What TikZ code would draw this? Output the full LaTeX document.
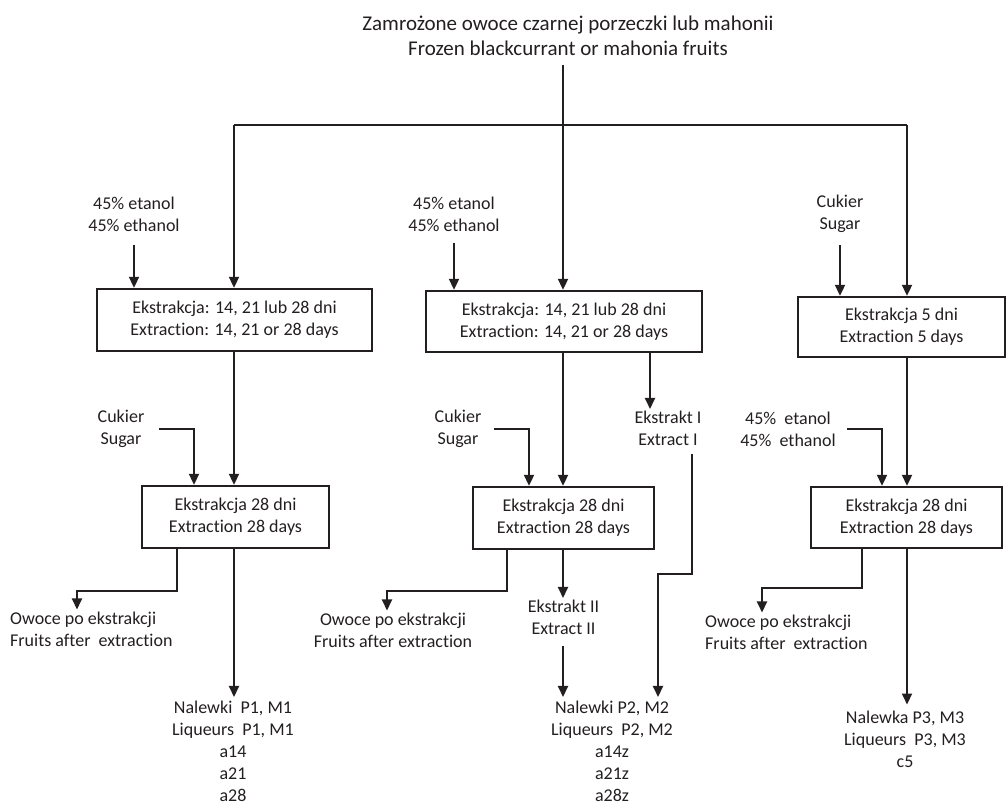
\documentclass[tikz,border=0pt]{standalone}
\usepackage{fontspec}
\setmainfont[Ligatures=CommonOff]{Carlito}
\usetikzlibrary{arrows.meta}
\definecolor{ink}{HTML}{231F20}

\begin{document}
\begin{tikzpicture}[
  x=1pt,y=-1pt,
  >={Triangle[length=11pt,width=10pt]},
  flow/.style={draw=ink,line width=2pt},
  stage/.style={draw=ink,line width=2.4pt,align=center,inner sep=0pt,
    font=\fontsize{18}{22}\selectfont,text=ink},
  lab/.style={align=center,inner sep=2pt,font=\fontsize{18}{22}\selectfont,text=ink},
  head/.style={align=center,inner sep=2pt,font=\fontsize{21}{25}\selectfont,text=ink},
]
\useasboundingbox (0,0) rectangle (1008,811);

% ---------- top: raw material and the three branches ----------
\node[head] (fruit) at (568,36) {Zamrożone owoce czarnej porzeczki lub mahonii\\Frozen blackcurrant or mahonia fruits};
\coordinate (stem) at (563,65);
\coordinate (busL) at (234,125);
\coordinate (busM) at (563,125);
\coordinate (busR) at (907,125);

% ---------- first extraction stage ----------
\node[stage,minimum width=275pt,minimum height=62pt] (ext14a) at (234.5,320) {Ekstrakcja: 14, 21 lub 28 dni\\Extraction: 14, 21 or 28 days};
\node[stage,minimum width=276pt,minimum height=61pt] (ext14b) at (564,321.5) {Ekstrakcja: 14, 21 lub 28 dni\\Extraction: 14, 21 or 28 days};
\node[stage,minimum width=207pt,minimum height=60pt] (ext5) at (901.5,327) {Ekstrakcja 5 dni\\Extraction 5 days};

\node[lab] (eth1) at (134,214) {45\% etanol\\45\% ethanol};
\node[lab] (eth2) at (454,214) {45\% etanol\\45\% ethanol};
\node[lab] (sug3) at (840,214) {Cukier\\Sugar};

% ---------- second extraction stage ----------
\node[stage,minimum width=187pt,minimum height=62pt] (ext28a) at (235.5,517) {Ekstrakcja 28 dni\\Extraction 28 days};
\node[stage,minimum width=181pt,minimum height=62pt] (ext28b) at (563.5,518) {Ekstrakcja 28 dni\\Extraction 28 days};
\node[stage,minimum width=191pt,minimum height=61pt] (ext28c) at (906.5,517.5) {Ekstrakcja 28 dni\\Extraction 28 days};

\node[lab] (sug1) at (121,428.5) {Cukier\\Sugar};
\node[lab] (sug2) at (458,428.5) {Cukier\\Sugar};
\node[lab] (eth3) at (788,429) {45\%~ etanol\\45\%~ ethanol};
\node[lab] (ext1) at (668,428.5) {Ekstrakt I\\Extract I};

% ---------- by-products and liqueurs ----------
\node[lab,align=left,anchor=west] (fr1) at (8,629) {Owoce po ekstrakcji\\Fruits after~ extraction};
\node[lab] (fr2) at (393,630) {Owoce po ekstrakcji\\Fruits after extraction};
\node[lab,align=left,anchor=west] (fr3) at (703,632) {Owoce po ekstrakcji\\Fruits after~ extraction};
\node[lab] (ext2) at (563.5,617.5) {Ekstrakt II\\Extract II};

\node[lab,inner ysep=4pt] (nal1) at (233,751.5) {Nalewki~ P1, M1\\Liqueurs~ P1, M1\\a14\\a21\\a28};
\node[lab,inner ysep=4pt] (nal2) at (612,751.5) {Nalewki P2, M2\\Liqueurs~ P2, M2\\a14z\\a21z\\a28z};
\node[lab,inner ysep=6pt] (nal3) at (905,739) {Nalewka P3, M3\\Liqueurs~ P3, M3\\c5};

% turning points of the connectors
\coordinate (s1) at (194,0);
\coordinate (s2) at (529,0);
\coordinate (s3) at (882,0);
\coordinate (o1) at (177,591);   \coordinate (o1end) at (77,591);
\coordinate (o2) at (507,591);   \coordinate (o2end) at (387,591);
\coordinate (o3) at (862,588);   \coordinate (o3end) at (762,588);
\coordinate (e1) at (650,0);
\coordinate (e1r) at (692,0);
\coordinate (e1j) at (658,574);

% ---------- connectors ----------
\draw[flow] (stem) -- (busM);
\draw[flow] (busL) -- (busR);
\draw[flow,->] (busL) -- (busL |- ext14a.north);
\draw[flow,->] (busM) -- (busM |- ext14b.north);
\draw[flow,->] (busR) -- (busR |- ext5.north);
\draw[flow,->] (eth1.south) ++(0,11) -- (eth1.south |- ext14a.north);
\draw[flow,->] (eth2.south) ++(0,9) -- (eth2.south |- ext14b.north);
\draw[flow,->] (sug3.south) ++(0,10) -- (sug3.south |- ext5.north);

% left branch
\draw[flow,->] (busL |- ext14a.south) -- (busL |- ext28a.north);
\draw[flow,->] (sug1.east) ++(12,0) -| (s1 |- ext28a.north);
\draw[flow,->] (o1 |- ext28a.south) |- (o1end) -- (o1end |- fr1.north);
\draw[flow,->] (busL |- ext28a.south) -- (busL |- nal1.north);

% middle branch
\draw[flow,->] (busM |- ext14b.south) -- (busM |- ext28b.north);
\draw[flow,->] (sug2.east) ++(10,0) -| (s2 |- ext28b.north);
\draw[flow,->] (e1 |- ext14b.south) -- (e1 |- ext1.north);
\draw[flow,->] (e1r |- ext1.south) ++(0,6) |- (e1j) -- (e1j |- nal2.north);
\draw[flow,->] (busM |- ext28b.south) -- (busM |- ext2.north);
\draw[flow,->] (busM |- ext2.south) ++(0,9) -- (busM |- nal2.north);
\draw[flow,->] (o2 |- ext28b.south) |- (o2end) -- (o2end |- fr2.north);

% right branch
\draw[flow,->] (busR |- ext5.south) -- (busR |- ext28c.north);
\draw[flow,->] (eth3.east) ++(9,0) -| (s3 |- ext28c.north);
\draw[flow,->] (o3 |- ext28c.south) |- (o3end) -- (o3end |- fr3.north);
\draw[flow,->] (busR |- ext28c.south) -- (busR |- nal3.north);

\end{tikzpicture}
\end{document}
